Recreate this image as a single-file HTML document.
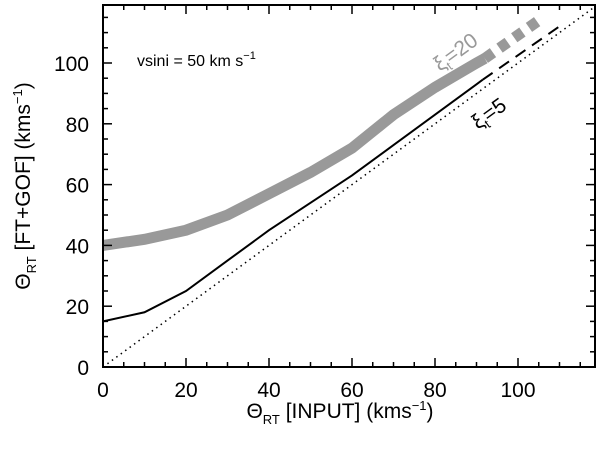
<!DOCTYPE html>
<html><head><meta charset="utf-8"><style>
html,body{margin:0;padding:0;background:#fff;}
svg text{font-family:"Liberation Sans","DejaVu Sans",sans-serif;}
</style></head><body>
<svg width="600" height="444" viewBox="0 0 600 444">
<g id="marks"></g>
<g id="axes"></g>
<text x="137" y="66" font-size="16">vsini = 50 km s<tspan dy="-7" font-size="11">−1</tspan></text>
<text transform="translate(440,72) rotate(-36)" font-size="21" fill="#999">ξ<tspan dy="5" font-size="13">t</tspan><tspan dy="-5">=20</tspan></text>
<text transform="translate(478,130) rotate(-36)" font-size="21" fill="#000">ξ<tspan dy="5" font-size="13">t</tspan><tspan dy="-5">=5</tspan></text>
<text x="340" y="418" font-size="21" text-anchor="middle">Θ<tspan dy="6" font-size="13">RT</tspan><tspan dy="-6"> [INPUT]  (kms</tspan><tspan dy="-8" font-size="13">−1</tspan><tspan dy="8">)</tspan></text>
<text transform="translate(30,186) rotate(-90)" font-size="21" text-anchor="middle">Θ<tspan dy="6" font-size="13">RT</tspan><tspan dy="-6"> [FT+GOF]  (kms</tspan><tspan dy="-8" font-size="13">−1</tspan><tspan dy="8">)</tspan></text>
</svg>
<script>
const xTicks=[0,20,40,60,80,100];
const yTicks=[0,20,40,60,80,100];
const blackX=[0,10,20,30,40,50,60,70,80,90,91.5];
const blackY=[15,18,25,35,45,54,63,73,83,93,94.5];
const blackDashX=[91.5,111];
const blackDashY=[94.5,113];
const greyX=[0,10,20,30,40,50,60,70,80,90,92];
const greyY=[40,42,45,50,57,64,72,83,92,100,101.5];
const greyDashX=[92,105];
const greyDashY=[101.5,114];
const L=103,R=595,T=5,B=367;
const X=v=>L+v*4.15, Y=v=>B-v*3.04;
const ns="http://www.w3.org/2000/svg";
const m=document.getElementById('marks'), ax=document.getElementById('axes');
function mk(tag,attrs,parent){const e=document.createElementNS(ns,tag);for(const k in attrs)e.setAttribute(k,attrs[k]);parent.appendChild(e);return e;}
function line(xs,ys,stroke,w,dash,name){
 const p=mk('polyline',{points:xs.map((x,i)=>X(x)+','+Y(ys[i])).join(' '),fill:'none',stroke:stroke,'stroke-width':w,'stroke-dasharray':dash||'none'},m);
 
 
}
line([0,118],[0,118],'#000',1.5,'1.5 4','identity-line');
line(greyX,greyY,'#999',11,null,'xi20-line');
line(greyDashX,greyDashY,'#999',11,'10 8','xi20-dashed-line');
line(blackX,blackY,'#000',2,null,'xi5-line');
line(blackDashX,blackDashY,'#000',2,'12 8','xi5-dashed-line');
const f=mk('rect',{x:L,y:T,width:R-L,height:B-T,fill:'none',stroke:'#000','stroke-width':2},ax);


for(let v=0;v<=118;v+=5){const big=v%20==0,len=big?9:5;
 mk('line',{x1:X(v),x2:X(v),y1:B,y2:B-len,stroke:'#000','stroke-width':1.5},ax);
 mk('line',{x1:X(v),x2:X(v),y1:T,y2:T+len,stroke:'#000','stroke-width':1.5},ax);}
for(let v=0;v<=118;v+=5){const big=v%20==0,len=big?9:5;
 mk('line',{y1:Y(v),y2:Y(v),x1:L,x2:L+len,stroke:'#000','stroke-width':1.5},ax);
 mk('line',{y1:Y(v),y2:Y(v),x1:R,x2:R-len,stroke:'#000','stroke-width':1.5},ax);}
xTicks.forEach(v=>{const t=mk('text',{x:X(v),y:397,'font-size':21,'text-anchor':'middle'},ax);t.textContent=v;
 
 });
yTicks.forEach(v=>{const t=mk('text',{x:L-14,y:Y(v)+8,'font-size':21,'text-anchor':'end'},ax);t.textContent=v;
 
 });
</script>
</body></html>
